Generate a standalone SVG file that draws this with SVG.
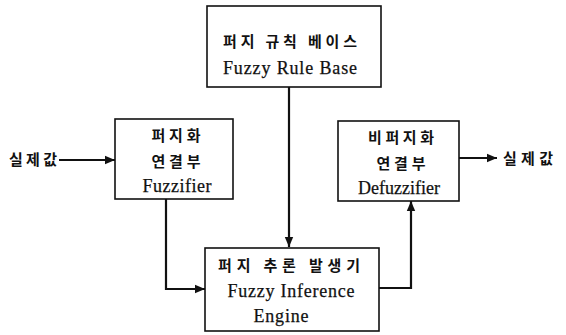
<svg xmlns="http://www.w3.org/2000/svg" width="566" height="335" viewBox="0 0 566 335">
  <style>
    .box { fill: #ffffff; stroke: #111111; stroke-width: 1.6; }
    .wire { fill: none; stroke: #111111; stroke-width: 2.2; }
    .ko { font-family: "Noto Sans CJK KR", "Noto Sans", sans-serif; font-size: 15px; font-weight: 700; fill: #111111; }
    .en { font-family: "Liberation Serif", "DejaVu Serif", serif; font-size: 18px; fill: #111111; stroke: #111111; stroke-width: 0.25; }
  </style>
  <defs>
    <marker id="arrow" markerUnits="userSpaceOnUse" markerWidth="12" markerHeight="10" refX="10" refY="5" orient="auto">
      <path d="M0,0.8 L10,5 L0,9.2 Z" fill="#111111"/>
    </marker>
  </defs>
  <rect width="566" height="335" fill="#ffffff"/>

  <g id="connectors">
    <path class="wire" d="M289,87 L289,247" marker-end="url(#arrow)"/>
    <path class="wire" d="M166,199 L166,289 L205,289" marker-end="url(#arrow)"/>
    <path class="wire" d="M379,288 L411,288 L411,201" marker-end="url(#arrow)"/>
    <path class="wire" d="M59,160 L115,160" marker-end="url(#arrow)"/>
    <path class="wire" d="M459,158 L497,158" marker-end="url(#arrow)"/>
  </g>

  <g id="rule-base">
    <rect class="box" x="207" y="6" width="174" height="81"/>
    <text class="ko" x="290" y="47" text-anchor="middle" textLength="134" lengthAdjust="spacing">퍼지 규칙 베이스</text>
    <text class="en" x="290" y="74" text-anchor="middle" textLength="134" lengthAdjust="spacing">Fuzzy Rule Base</text>
  </g>

  <g id="fuzzifier">
    <rect class="box" x="115" y="119" width="118" height="80"/>
    <text class="ko" x="176" y="141" text-anchor="middle" textLength="49" lengthAdjust="spacing">퍼지화</text>
    <text class="ko" x="176" y="167" text-anchor="middle" textLength="49" lengthAdjust="spacing">연결부</text>
    <text class="en" x="177" y="192" text-anchor="middle" textLength="69" lengthAdjust="spacing">Fuzzifier</text>
  </g>

  <g id="defuzzifier">
    <rect class="box" x="338" y="121" width="121" height="80"/>
    <text class="ko" x="401" y="143" text-anchor="middle" textLength="66" lengthAdjust="spacing">비퍼지화</text>
    <text class="ko" x="401" y="169" text-anchor="middle" textLength="49" lengthAdjust="spacing">연결부</text>
    <text class="en" x="399" y="194" text-anchor="middle" textLength="82" lengthAdjust="spacing">Defuzzifier</text>
  </g>

  <g id="inference-engine">
    <rect class="box" x="205" y="248" width="174" height="83"/>
    <text class="ko" x="289" y="271" text-anchor="middle" textLength="142" lengthAdjust="spacing">퍼지 추론 발생기</text>
    <text class="en" x="291" y="297" text-anchor="middle" textLength="127" lengthAdjust="spacing">Fuzzy Inference</text>
    <text class="en" x="281" y="322" text-anchor="middle" textLength="55" lengthAdjust="spacing">Engine</text>
  </g>

  <g id="input-label">
    <text class="ko" x="33" y="165" text-anchor="middle" textLength="48" lengthAdjust="spacing">실제값</text>
  </g>

  <g id="output-label">
    <text class="ko" x="528" y="164" text-anchor="middle" textLength="50" lengthAdjust="spacing">실제값</text>
  </g>
</svg>
